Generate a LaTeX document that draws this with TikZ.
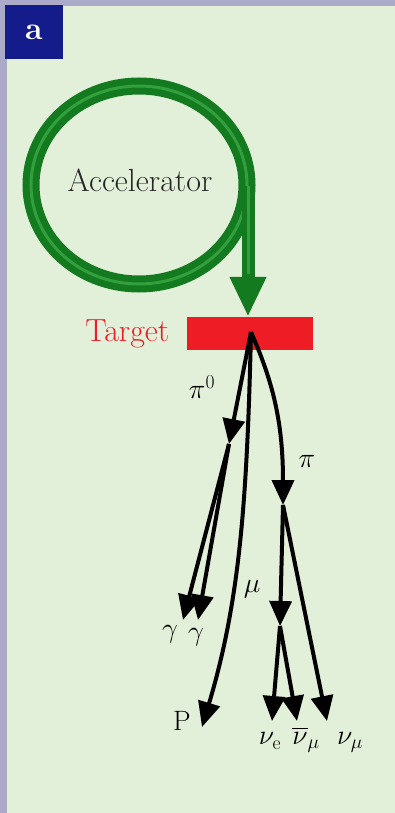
\RequirePackage{fix-cm}
\documentclass[tikz,border=0pt]{standalone}
\usepackage{amsmath}
\usetikzlibrary{arrows.meta,positioning}
\definecolor{marco}{HTML}{ABABC9}
\definecolor{fondo}{HTML}{E3F0D9}
\definecolor{panel}{HTML}{141B8B}
\definecolor{anillo}{HTML}{147A1F}
\definecolor{brillo}{HTML}{31A03D}
\definecolor{diana}{HTML}{EE1C24}

\begin{document}
\begin{tikzpicture}[x=1pt, y=-1pt, font=\fontsize{32}{36}\selectfont,
    haz/.style={line width=4pt, -{Triangle[width=22pt,length=25pt]}},
    etiqueta/.style={font=\fontsize{28}{32}\selectfont, inner sep=0pt}]
        \useasboundingbox (0,0) rectangle (395,813);
        \fill[marco] (0,0) rectangle (395,813);
        \fill[fondo] (7,6) rectangle (395,813);
        \node[fill=panel, minimum width=58pt, minimum height=54pt, inner sep=0pt,
              text=white, font=\fontsize{32}{36}\selectfont\bfseries] (panel) at (34,32) {a};
        \draw[anillo, line width=7pt, double=brillo, double distance=3pt] (139,185) ellipse (108 and 99);
        \node[text=black!85] (acc) at (140,180) {Accelerator};
        \coordinate (salida) at (248,186);
        \node[fill=diana, minimum width=126pt, minimum height=33pt, inner sep=0pt] (target) at (250,333.5) {};
        \node[text=diana, left=14pt of target] (ltarget) {Target};
        \draw[anillo, line width=13pt, -{Triangle[width=34pt,length=40pt]}] (salida) -- (target.north -| salida);
        \draw[brillo, line width=3pt] (salida) -- ++(0,88);
        \coordinate (choque) at (251,332);
        \coordinate (pio0) at (229,444);
        \coordinate (pio) at (283,505);
        \coordinate (muon) at (280,626);
        \coordinate (g1) at (183,620);
        \coordinate (g2) at (198,620);
        \coordinate (prot) at (202,727);
        \coordinate (nue) at (272,721);
        \coordinate (numub) at (297,721);
        \coordinate (numu) at (327,721);
        \draw[haz] (choque) -- (pio0);
        \draw[haz] (choque) .. controls (272,380) and (283,420) .. (pio);
        \draw[haz] (choque) .. controls (247,500) and (240,600) .. (prot);
        \draw[haz] (pio) -- (muon);
        \foreach \desde/\hasta in {pio0/g1, pio0/g2, pio/numu, muon/nue, muon/numub}{
          \draw[haz] (\desde) -- (\hasta);
        }
        \node[etiqueta] (lpio0) at (202,387) {$\pi^0$};
        \node[etiqueta] (lpio) at (307,461) {$\pi$};
        \node[etiqueta] (lmu) at (252,589) {$\mu$};
        \node[etiqueta] (lg1) at (170,634) {$\gamma$};
        \node[etiqueta] (lg2) at (196,637) {$\gamma$};
        \node[etiqueta] (lprot) at (182,721) {P};
        \node[etiqueta] (lnue) at (270,741) {$\nu_{\mathrm{e}}$};
        \node[etiqueta] (lnumub) at (306,740) {$\overline{\nu}_\mu$};
        \node[etiqueta] (lnumu) at (350,742) {$\nu_\mu$};
      \end{tikzpicture}
\end{document}
